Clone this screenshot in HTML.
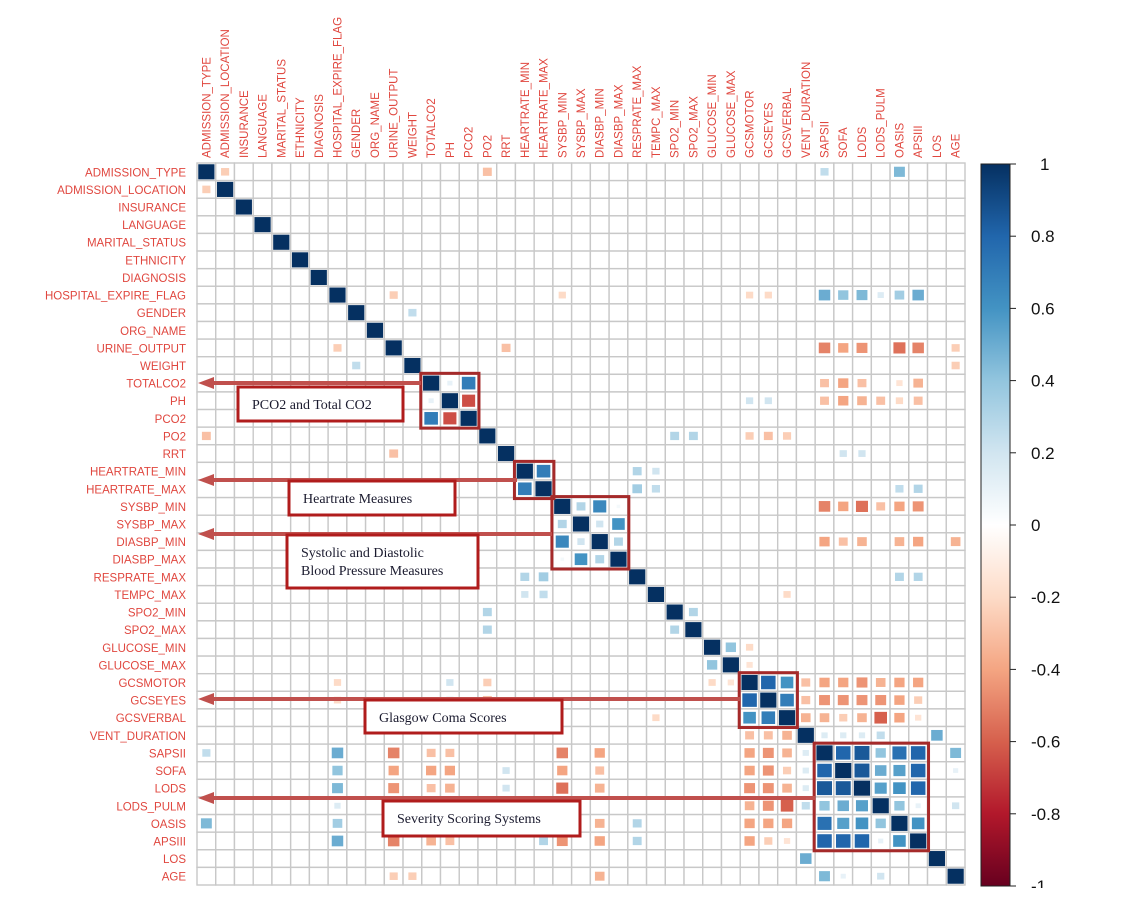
<!DOCTYPE html>
<html><head><meta charset="utf-8"><style>
body{margin:0;background:#fff;width:1135px;height:906px;overflow:hidden;}
svg{display:block;}
</style></head><body>
<svg id="chart" width="1135" height="906" xmlns="http://www.w3.org/2000/svg">
<defs>
<linearGradient id="cb" x1="0" y1="0" x2="0" y2="1">
<stop offset="0" stop-color="#053061"/><stop offset="0.1" stop-color="#2166AC"/><stop offset="0.2" stop-color="#4393C3"/><stop offset="0.3" stop-color="#92C5DE"/><stop offset="0.4" stop-color="#D1E5F0"/><stop offset="0.5" stop-color="#FFFFFF"/><stop offset="0.6" stop-color="#FDDBC7"/><stop offset="0.7" stop-color="#F4A582"/><stop offset="0.8" stop-color="#D6604D"/><stop offset="0.9" stop-color="#B2182B"/><stop offset="1" stop-color="#67001F"/>
</linearGradient>
</defs>
<g id="grid"></g><g id="marks"></g><g id="labels"></g><g id="legend"></g><g id="annot"></g>
</svg>
<script>
const variables=["ADMISSION_TYPE","ADMISSION_LOCATION","INSURANCE","LANGUAGE","MARITAL_STATUS","ETHNICITY","DIAGNOSIS","HOSPITAL_EXPIRE_FLAG","GENDER","ORG_NAME","URINE_OUTPUT","WEIGHT","TOTALCO2","PH","PCO2","PO2","RRT","HEARTRATE_MIN","HEARTRATE_MAX","SYSBP_MIN","SYSBP_MAX","DIASBP_MIN","DIASBP_MAX","RESPRATE_MAX","TEMPC_MAX","SPO2_MIN","SPO2_MAX","GLUCOSE_MIN","GLUCOSE_MAX","GCSMOTOR","GCSEYES","GCSVERBAL","VENT_DURATION","SAPSII","SOFA","LODS","LODS_PULM","OASIS","APSIII","LOS","AGE"];
// pairs: [rowVar, colVar, r]
const corrPairs=[
["TOTALCO2","PH",0.1],["TOTALCO2","PCO2",0.7],["PH","PCO2",-0.65],
["HEARTRATE_MIN","HEARTRATE_MAX",0.7],
["SYSBP_MIN","SYSBP_MAX",0.3],["SYSBP_MIN","DIASBP_MIN",0.65],["SYSBP_MIN","DIASBP_MAX",0.05],["SYSBP_MAX","DIASBP_MIN",0.2],["SYSBP_MAX","DIASBP_MAX",0.6],["DIASBP_MIN","DIASBP_MAX",0.3],
["GCSMOTOR","GCSEYES",0.8],["GCSMOTOR","GCSVERBAL",0.6],["GCSEYES","GCSVERBAL",0.7],
["SAPSII","SOFA",0.8],["SAPSII","LODS",0.85],["SAPSII","LODS_PULM",0.4],["SAPSII","OASIS",0.75],["SAPSII","APSIII",0.8],
["SOFA","LODS",0.85],["SOFA","LODS_PULM",0.5],["SOFA","OASIS",0.55],["SOFA","APSIII",0.8],
["LODS","LODS_PULM",0.55],["LODS","OASIS",0.6],["LODS","APSIII",0.8],
["LODS_PULM","OASIS",0.4],["LODS_PULM","APSIII",0.1],["OASIS","APSIII",0.6],
["GLUCOSE_MIN","GLUCOSE_MAX",0.4],["VENT_DURATION","LOS",0.5],["SAPSII","AGE",0.45],
["ADMISSION_TYPE","OASIS",0.45],["ADMISSION_TYPE","SAPSII",0.25],["ADMISSION_TYPE","ADMISSION_LOCATION",-0.25],["ADMISSION_TYPE","PO2",-0.3],
["HOSPITAL_EXPIRE_FLAG","SAPSII",0.5],["HOSPITAL_EXPIRE_FLAG","SOFA",0.4],["HOSPITAL_EXPIRE_FLAG","LODS",0.45],["HOSPITAL_EXPIRE_FLAG","LODS_PULM",0.15],["HOSPITAL_EXPIRE_FLAG","OASIS",0.35],["HOSPITAL_EXPIRE_FLAG","APSIII",0.5],["HOSPITAL_EXPIRE_FLAG","URINE_OUTPUT",-0.25],["HOSPITAL_EXPIRE_FLAG","SYSBP_MIN",-0.2],["HOSPITAL_EXPIRE_FLAG","GCSMOTOR",-0.2],["HOSPITAL_EXPIRE_FLAG","GCSEYES",-0.2],
["URINE_OUTPUT","SAPSII",-0.5],["URINE_OUTPUT","SOFA",-0.4],["URINE_OUTPUT","LODS",-0.45],["URINE_OUTPUT","OASIS",-0.55],["URINE_OUTPUT","APSIII",-0.5],["URINE_OUTPUT","AGE",-0.25],["URINE_OUTPUT","RRT",-0.3],
["TOTALCO2","SAPSII",-0.3],["TOTALCO2","SOFA",-0.4],["TOTALCO2","LODS",-0.3],["TOTALCO2","APSIII",-0.35],["TOTALCO2","OASIS",-0.15],
["PH","SAPSII",-0.3],["PH","SOFA",-0.4],["PH","LODS",-0.35],["PH","LODS_PULM",-0.3],["PH","OASIS",-0.2],["PH","APSIII",-0.3],["PH","GCSMOTOR",0.2],["PH","GCSEYES",0.2],
["SYSBP_MIN","SAPSII",-0.5],["SYSBP_MIN","SOFA",-0.4],["SYSBP_MIN","LODS",-0.55],["SYSBP_MIN","LODS_PULM",-0.3],["SYSBP_MIN","OASIS",-0.4],["SYSBP_MIN","APSIII",-0.45],
["DIASBP_MIN","SAPSII",-0.4],["DIASBP_MIN","SOFA",-0.3],["DIASBP_MIN","LODS",-0.35],["DIASBP_MIN","OASIS",-0.35],["DIASBP_MIN","APSIII",-0.4],["DIASBP_MIN","AGE",-0.35],
["GCSMOTOR","SAPSII",-0.4],["GCSMOTOR","SOFA",-0.4],["GCSMOTOR","LODS",-0.45],["GCSMOTOR","LODS_PULM",-0.35],["GCSMOTOR","OASIS",-0.4],["GCSMOTOR","APSIII",-0.4],["GCSMOTOR","VENT_DURATION",-0.3],
["GCSEYES","SAPSII",-0.45],["GCSEYES","SOFA",-0.45],["GCSEYES","LODS",-0.45],["GCSEYES","LODS_PULM",-0.45],["GCSEYES","OASIS",-0.4],["GCSEYES","APSIII",-0.25],["GCSEYES","VENT_DURATION",-0.3],
["GCSVERBAL","SAPSII",-0.35],["GCSVERBAL","SOFA",-0.25],["GCSVERBAL","LODS",-0.35],["GCSVERBAL","LODS_PULM",-0.6],["GCSVERBAL","OASIS",-0.4],["GCSVERBAL","APSIII",-0.15],["GCSVERBAL","VENT_DURATION",-0.35],
["HEARTRATE_MIN","RESPRATE_MAX",0.3],["HEARTRATE_MAX","RESPRATE_MAX",0.35],["HEARTRATE_MIN","TEMPC_MAX",0.2],["HEARTRATE_MAX","TEMPC_MAX",0.25],
["RESPRATE_MAX","OASIS",0.3],["RESPRATE_MAX","APSIII",0.3],["HEARTRATE_MAX","OASIS",0.25],["HEARTRATE_MAX","APSIII",0.3],
["PO2","SPO2_MIN",0.3],["PO2","SPO2_MAX",0.3],["PO2","GCSMOTOR",-0.25],["PO2","GCSEYES",-0.3],["PO2","GCSVERBAL",-0.25],["SPO2_MIN","SPO2_MAX",0.3],
["VENT_DURATION","SAPSII",0.15],["VENT_DURATION","SOFA",0.15],["VENT_DURATION","LODS",0.15],["VENT_DURATION","LODS_PULM",0.25],["AGE","LODS_PULM",0.2],["AGE","SOFA",0.1],
["WEIGHT","GENDER",0.25],["WEIGHT","AGE",-0.25],["RRT","SOFA",0.2],["RRT","LODS",0.2],
["GLUCOSE_MIN","GCSMOTOR",-0.2],["GLUCOSE_MAX","GCSMOTOR",-0.15],["TEMPC_MAX","GCSVERBAL",-0.2]
];
const legendTicks=[1,0.8,0.6,0.4,0.2,0,-0.2,-0.4,-0.6,-0.8,-1];

const N=variables.length,X0=197,Y0=163,CW=768/N,CH=722/N;
const xCol=i=>X0+i*CW, yRow=i=>Y0+i*CH;
const NS="http://www.w3.org/2000/svg";
function mk(t,a,p){const e=document.createElementNS(NS,t);for(const k in a)e.setAttribute(k,a[k]);p.appendChild(e);return e;}
const stops=[[-1,[103,0,31]],[-0.8,[178,24,43]],[-0.6,[214,96,77]],[-0.4,[244,165,130]],[-0.2,[253,219,199]],[0,[255,255,255]],[0.2,[209,229,240]],[0.4,[146,197,222]],[0.6,[67,147,195]],[0.8,[33,102,172]],[1,[5,48,97]]];
function col(v){for(let i=0;i<stops.length-1;i++){const[a,ca]=stops[i],[b,cb]=stops[i+1];if(v>=a&&v<=b){const t=(v-a)/(b-a);return`rgb(${ca.map((c,k)=>Math.round(c+(cb[k]-c)*t)).join(',')})`;}}return"#fff";}
const M=[];for(let i=0;i<N;i++){M.push(new Array(N).fill(0));M[i][i]=1;}
corrPairs.forEach(([a,b,r])=>{const i=variables.indexOf(a),j=variables.indexOf(b);M[i][j]=r;M[j][i]=r;});
const grid=document.getElementById('grid'),marks=document.getElementById('marks'),labels=document.getElementById('labels');
for(let i=0;i<N;i++)for(let j=0;j<N;j++){
  const c=mk('rect',{x:xCol(j),y:yRow(i),width:CW,height:CH,fill:'#fff',stroke:'#c8c8c8','stroke-width':1.4},grid);
  
  
  const r=M[i][j];if(r===0)continue;
  const s=Math.sqrt(Math.abs(r)),w=(CW-2.5)*s,h=(CH-2.5)*s;
  const m=mk('rect',{x:xCol(j)+CW/2-w/2,y:yRow(i)+CH/2-h/2,width:w,height:h,fill:col(r)},marks);
  
  
}
variables.forEach((v,i)=>{
  const t=mk('text',{x:186,y:yRow(i)+CH/2+4.5,'text-anchor':'end','font-family':'Liberation Sans, sans-serif','font-size':11.5,fill:'#e0473f'},labels);t.textContent=v;
  
  
  const cx=xCol(i)+CW/2+4;
  const u=mk('text',{x:cx,y:158,transform:`rotate(-90 ${cx} 158)`,'font-family':'Liberation Sans, sans-serif','font-size':11.5,fill:'#e0473f'},labels);u.textContent=v;
  
  
});
const lg=document.getElementById('legend');
const bar=mk('rect',{x:981,y:164,width:29,height:722,fill:'url(#cb)',stroke:'#222','stroke-width':1},lg);


legendTicks.forEach(v=>{const y=164+(1-v)*361;
  mk('line',{x1:1010,y1:y,x2:1016,y2:y,stroke:'#222'},lg);
  const t=mk('text',{x:v===1?1040:1031,y:y+6,'font-family':'Liberation Sans, sans-serif','font-size':17,fill:'#111'},lg);t.textContent=v;
  
  
});
mk('rect',{x:1018,y:888,width:117,height:20,fill:'#fff'},lg);
const an=document.getElementById('annot');
function block(a,b){const i=variables.indexOf(a),j=variables.indexOf(b);
  const r=mk('rect',{x:xCol(i)-1,y:yRow(i)-1,width:(j-i+1)*CW+2,height:(j-i+1)*CH+2,fill:'none',stroke:'#a52a2a','stroke-width':3},an);
  
  }
block("TOTALCO2","PCO2");block("HEARTRATE_MIN","HEARTRATE_MAX");block("SYSBP_MIN","DIASBP_MAX");block("GCSMOTOR","GCSVERBAL");block("SAPSII","APSIII");
function arrow(y,x2){const l=mk('line',{x1:x2,y1:y,x2:212,y2:y,stroke:'#c0504d','stroke-width':4},an);
  
  
  mk('polygon',{points:`198,${y} 214,${y-6} 214,${y+6}`,fill:'#c0504d'},an);}
function box(x,y,w,h,lines,name){const g=mk('g',{},an);
  
  
  mk('rect',{x,y,width:w,height:h,fill:'#fff',stroke:'#b01c1c','stroke-width':3},g);
  lines.forEach((s,k)=>{const t=mk('text',{x:x+14,y:y+22+k*18,'font-family':'Liberation Serif, serif','font-size':14,fill:'#1a1a2e'},g);t.textContent=s;});}
arrow(383,421);box(238,387,165,34,["PCO2  and Total CO2"],"annotation-pco2");
arrow(480,517);box(289,481,166,34,["Heartrate Measures"],"annotation-heartrate");
arrow(534,552);box(287,535,191,53,["Systolic  and Diastolic","Blood Pressure Measures"],"annotation-blood-pressure");
arrow(699,740);box(365,700,197,33,["Glasgow  Coma Scores"],"annotation-glasgow");
arrow(798,815);box(383,801,197,35,["Severity  Scoring Systems"],"annotation-severity");
</script>
</body></html>
